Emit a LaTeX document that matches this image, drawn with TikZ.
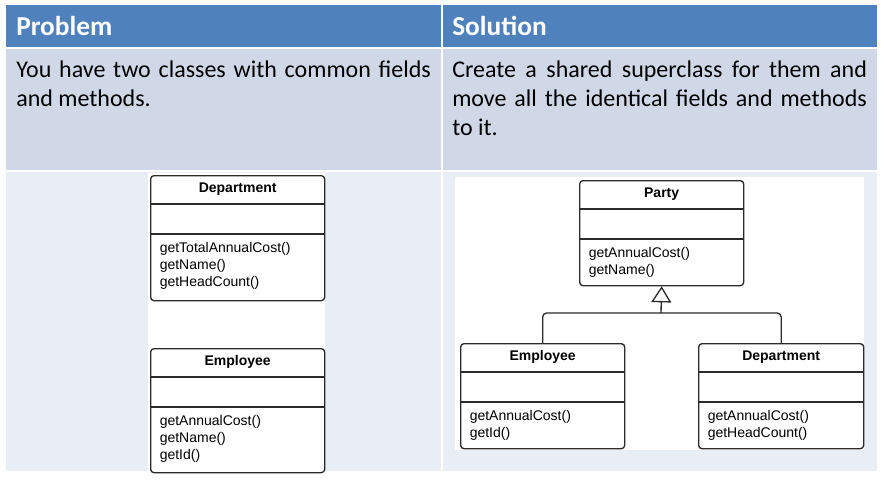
\documentclass[tikz,border=0pt]{standalone}
\usepackage{fontspec}
\setmainfont{Carlito}
\newfontfamily\umlfont{Liberation Sans}
\usetikzlibrary{arrows.meta, positioning, calc}

\definecolor{headblue}{HTML}{4F81BD}
\definecolor{rowmid}{HTML}{D0D8E8}
\definecolor{rowlow}{HTML}{E9EDF4}
\definecolor{umlline}{HTML}{2B2B2B}

% one UML class: name, x, y (top left), width, height, title, methods
\newcommand{\umlclass}[7]{%
  \node[umlbox, minimum width=#4*0.75pt, minimum height=#5*0.75pt,
        anchor=north west] (#1) at (#2,#3) {};
  \node[umltitle] (#1-title) at ($(#1.north)+(0,17.5)$) {#6};
  \draw[umlrule] ($(#1.north west)+(0,29)$) -- ($(#1.north east)+(0,29)$);
  \draw[umlrule] ($(#1.north west)+(0,59)$) -- ($(#1.north east)+(0,59)$);
  \foreach \m [count=\i from 0] in {#7} {
    \node[umlmethod] (#1-m\i) at ($(#1.north west)+(9.5,77+17*\i)$) {\m};
  }%
}

\begin{document}
\begin{tikzpicture}[
    x=0.75pt, y=-0.75pt,
    umlbox/.style={draw=umlline, line width=1pt, rounded corners=2.5pt,
                   fill=white, inner sep=0pt},
    umltitle/.style={anchor=base, inner sep=0pt,
                     font=\umlfont\bfseries\fontsize{10.5}{12}\selectfont},
    umlmethod/.style={anchor=base west, inner sep=0pt,
                      font=\umlfont\fontsize{10.5}{12}\selectfont},
    umlrule/.style={draw=umlline, line width=1pt},
    headtxt/.style={anchor=west, text=white, inner sep=0pt,
                    font=\bfseries\fontsize{20.5}{24}\selectfont},
    celltxt/.style={anchor=north west, inner sep=0pt, text width=311pt,
                    align=justify, font=\fontsize{18}{21.5}\selectfont},
    isa/.style={draw=umlline, line width=1pt,
                -{Triangle[open, length=12pt, width=15pt]}}
  ]
  \useasboundingbox (0,0) rectangle (883,483);

  % table cells
  \fill[headblue] (6,5) rectangle (441,47);
  \fill[headblue] (443,5) rectangle (877,47);
  \fill[rowmid] (6,49) rectangle (441,170);
  \fill[rowmid] (443,49) rectangle (877,170);
  \fill[rowlow] (6,172) rectangle (441,471);
  \fill[rowlow] (443,172) rectangle (877,471);

  \node[headtxt] (probhead) at (16,26) {Problem};
  \node[headtxt] (solhead) at (452,26) {Solution};

  \node[celltxt] (probtext) at (16,61)
    {You have two classes with common fields and methods.};
  \node[celltxt] (soltext) at (452,61)
    {Create a shared superclass for them and move all the identical
     fields and methods to it.};

  % white panels behind the diagrams
  \fill[white] (148,173) rectangle (325,471);
  \fill[white] (455,177) rectangle (864,450);

  % before
  \umlclass{dep}{150}{175}{174}{125}{Department}
    {{getTotalAnnualCost()},{getName()},{getHeadCount()}}
  \umlclass{emp}{150}{348}{174}{124}{Employee}
    {{getAnnualCost()},{getName()},{getId()}}

  % after
  \umlclass{party}{579}{180}{164}{105}{Party}
    {{getAnnualCost()},{getName()}}
  \umlclass{subemp}{460}{343}{164}{105}{Employee}
    {{getAnnualCost()},{getId()}}
  \umlclass{subdep}{698}{343}{165}{105}{Department}
    {{getAnnualCost()},{getHeadCount()}}

  \coordinate (join) at (661,313);
  \draw[isa] (join) -- (party.south);
  \draw[umlrule, rounded corners=3pt] (subemp.north) |- (join);
  \draw[umlrule, rounded corners=3pt] (subdep.north) |- (join);
\end{tikzpicture}
\end{document}
